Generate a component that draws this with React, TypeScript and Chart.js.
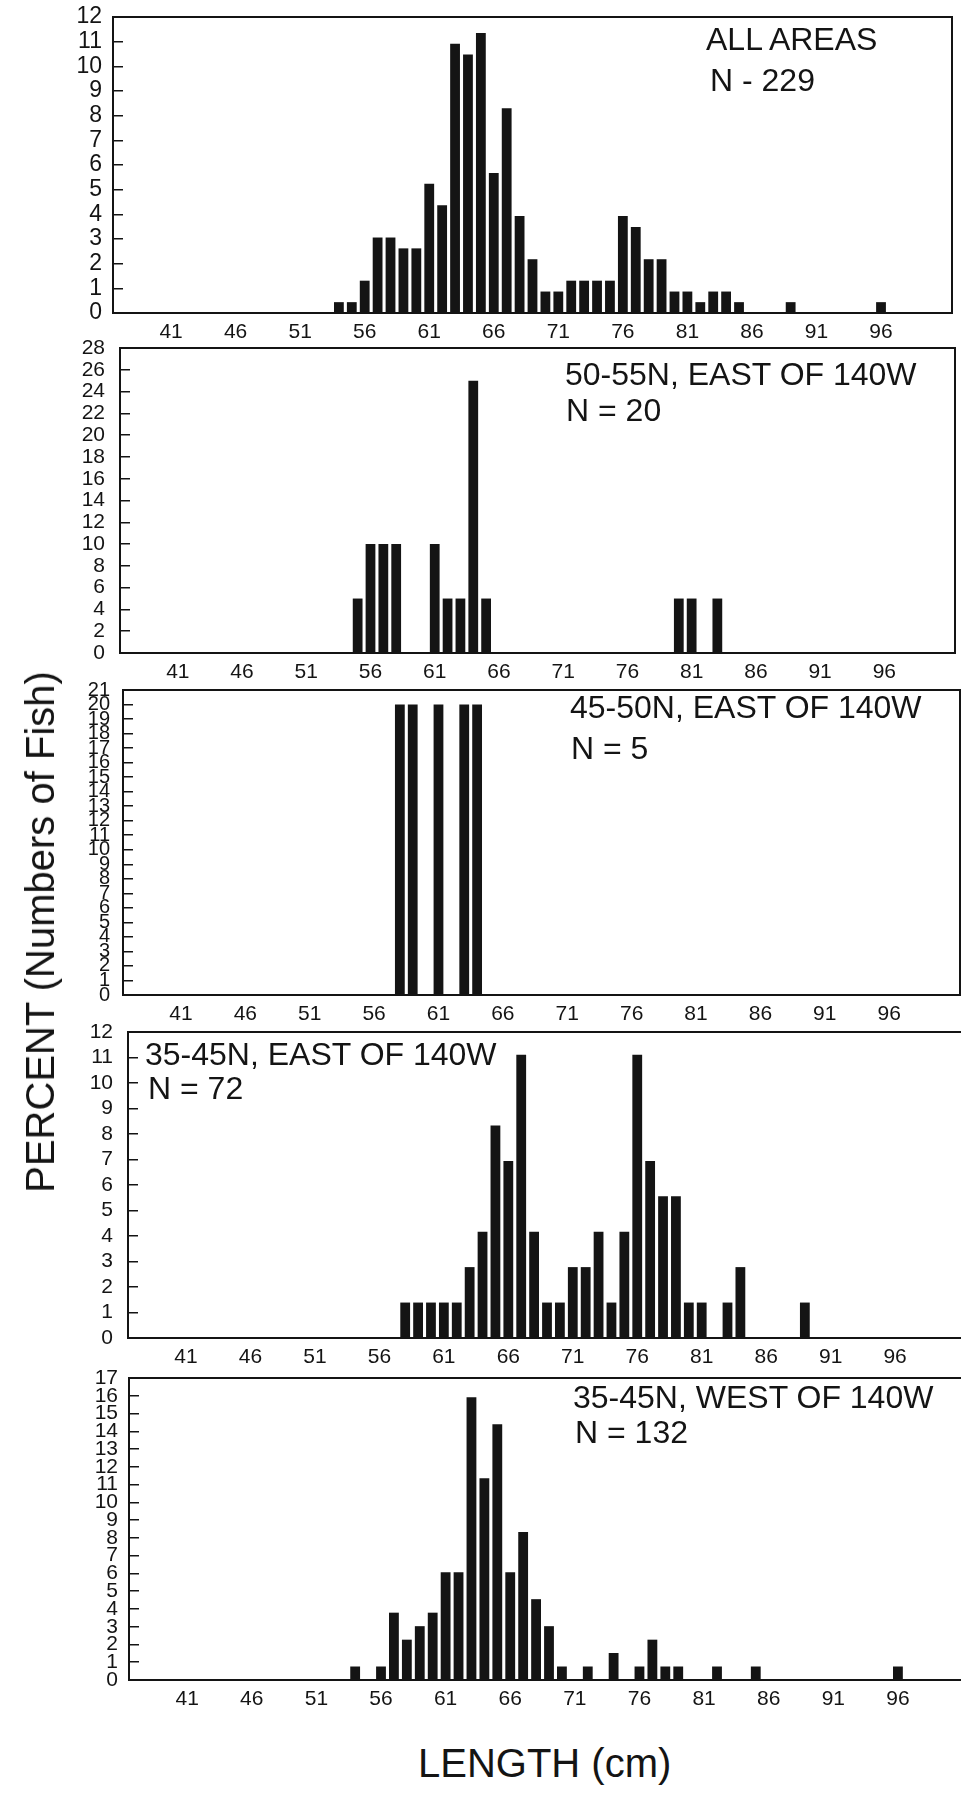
import React, { useEffect, useRef } from 'react';
import { Chart, registerables } from 'chart.js';

Chart.register(...registerables);

// ---------- data ----------
const LENGTH_CATEGORIES = [
  '37', '38', '39', '40', '41', '42', '43', '44', '45', '46', '47', '48', '49', '50',
  '51', '52', '53', '54', '55', '56', '57', '58', '59', '60', '61', '62', '63', '64',
  '65', '66', '67', '68', '69', '70', '71', '72', '73', '74', '75', '76', '77', '78',
  '79', '80', '81', '82', '83', '84', '85', '86', '87', '88', '89', '90', '91', '92',
  '93', '94', '95', '96', '97', '98', '99', '100', '101',
];
const X_TICK_LABELS = ['41', '46', '51', '56', '61', '66', '71', '76', '81', '86', '91', '96'];

const ALL_AREAS_LENGTHS = [54, 55, 56, 57, 58, 59, 60, 61, 62, 63, 64, 65, 66, 67, 68, 69, 70, 71, 72, 73, 74, 75, 76, 77, 78, 79, 80, 81, 82, 83, 84, 85, 89, 96];
const ALL_AREAS_PERCENT = [0.44, 0.44, 1.31, 3.06, 3.06, 2.62, 2.62, 5.24, 4.37, 10.92, 10.48, 11.35, 5.68, 8.3, 3.93, 2.18, 0.87, 0.87, 1.31, 1.31, 1.31, 1.31, 3.93, 3.49, 2.18, 2.18, 0.87, 0.87, 0.44, 0.87, 0.87, 0.44, 0.44, 0.44];

const N50_55_EAST_LENGTHS = [55, 56, 57, 58, 61, 62, 63, 64, 65, 80, 81, 83];
const N50_55_EAST_PERCENT = [5, 10, 10, 10, 10, 5, 5, 25, 5, 5, 5, 5];

const N45_50_EAST_LENGTHS = [58, 59, 61, 63, 64];
const N45_50_EAST_PERCENT = [20, 20, 20, 20, 20];

const N35_45_EAST_LENGTHS = [58, 59, 60, 61, 62, 63, 64, 65, 66, 67, 68, 69, 70, 71, 72, 73, 74, 75, 76, 77, 78, 79, 80, 81, 83, 84, 89];
const N35_45_EAST_PERCENT = [1.39, 1.39, 1.39, 1.39, 1.39, 2.78, 4.17, 8.33, 6.94, 11.11, 4.17, 1.39, 1.39, 2.78, 2.78, 4.17, 1.39, 4.17, 11.11, 6.94, 5.56, 5.56, 1.39, 1.39, 1.39, 2.78, 1.39];

const N35_45_WEST_LENGTHS = [54, 56, 57, 58, 59, 60, 61, 62, 63, 64, 65, 66, 67, 68, 69, 70, 72, 74, 76, 77, 78, 79, 82, 85, 96];
const N35_45_WEST_PERCENT = [0.76, 0.76, 3.79, 2.27, 3.03, 3.79, 6.06, 6.06, 15.91, 11.36, 14.39, 6.06, 8.33, 4.55, 3.03, 0.76, 0.76, 1.52, 0.76, 2.27, 0.76, 0.76, 0.76, 0.76, 0.76];

// ---------- layout / style ----------
const FONT = "'Liberation Sans', Arial, Helvetica, sans-serif";
const INK = '#141414';
const PAD_TOP = 60;
const X_AXIS_H = 44;

type Panel = {
  lengths: number[];
  percent: number[];
  yMax: number;
  yStep: number;
  yFont: number;
  yPad: number;
  box: { left: number; top: number; right: number; bottom: number };
  title: string;
  nText: string;
  titlePos: { x: number; y: number };
  nPos: { x: number; y: number };
};

const PANELS: Panel[] = [
  {
    lengths: ALL_AREAS_LENGTHS, percent: ALL_AREAS_PERCENT, yMax: 12, yStep: 1, yFont: 23, yPad: 21,
    box: { left: 113, top: 17, right: 952, bottom: 313 },
    title: 'ALL AREAS', nText: 'N - 229', titlePos: { x: 706, y: 23 }, nPos: { x: 710, y: 64 },
  },
  {
    lengths: N50_55_EAST_LENGTHS, percent: N50_55_EAST_PERCENT, yMax: 28, yStep: 2, yFont: 21, yPad: 25,
    box: { left: 120, top: 348, right: 955, bottom: 653 },
    title: '50-55N, EAST OF 140W', nText: 'N = 20', titlePos: { x: 565, y: 358 }, nPos: { x: 566, y: 394 },
  },
  {
    lengths: N45_50_EAST_LENGTHS, percent: N45_50_EAST_PERCENT, yMax: 21, yStep: 1, yFont: 20, yPad: 23,
    box: { left: 123, top: 690, right: 960, bottom: 995 },
    title: '45-50N, EAST OF 140W', nText: 'N = 5', titlePos: { x: 570, y: 691 }, nPos: { x: 571, y: 732 },
  },
  {
    lengths: N35_45_EAST_LENGTHS, percent: N35_45_EAST_PERCENT, yMax: 12, yStep: 1, yFont: 21, yPad: 25,
    box: { left: 128, top: 1032, right: 966, bottom: 1338 },
    title: '35-45N, EAST OF 140W', nText: 'N = 72', titlePos: { x: 145, y: 1038 }, nPos: { x: 148, y: 1072 },
  },
  {
    lengths: N35_45_WEST_LENGTHS, percent: N35_45_WEST_PERCENT, yMax: 17, yStep: 1, yFont: 21, yPad: 21,
    box: { left: 129, top: 1378, right: 969, bottom: 1680 },
    title: '35-45N, WEST OF 140W', nText: 'N = 132', titlePos: { x: 573, y: 1381 }, nPos: { x: 575, y: 1416 },
  },
];

const boxPlugin = {
  id: 'panelBox',
  afterDraw(chart: any) {
    const { ctx, chartArea } = chart;
    const { left, top, right, bottom } = chartArea;
    ctx.save();
    ctx.strokeStyle = INK;
    ctx.lineWidth = 2;
    ctx.strokeRect(left, top, right - left, bottom - top);
    ctx.restore();
  },
};

function PanelChart({ p }: { p: Panel }) {
  const ref = useRef<HTMLCanvasElement | null>(null);
  const canvasW = Math.max(961, p.box.right + 4);
  const canvasH = PAD_TOP + (p.box.bottom - p.box.top) + X_AXIS_H;

  useEffect(() => {
    if (!ref.current) return;
    const chart = new Chart(ref.current, {
      type: 'bar',
      data: {
        labels: LENGTH_CATEGORIES,
        datasets: [
          {
            data: p.lengths.map((l, i) => ({ x: String(l), y: p.percent[i] })),
            backgroundColor: INK,
            borderWidth: 0,
            barPercentage: 0.76,
            categoryPercentage: 1,
          } as any,
        ],
      },
      options: {
        responsive: false,
        animation: false,
        events: [],
        layout: { padding: { top: PAD_TOP, right: canvasW - p.box.right, left: 0, bottom: 0 } },
        plugins: {
          legend: { display: false },
          tooltip: { enabled: false },
          title: { display: false },
        },
        scales: {
          x: {
            type: 'category',
            offset: true,
            grid: { display: false, drawTicks: false },
            border: { display: false },
            ticks: {
              autoSkip: false,
              maxRotation: 0,
              minRotation: 0,
              padding: 7,
              color: INK,
              font: { family: FONT, size: 21 },
              callback: (_v: any, index: number) => {
                const lab = LENGTH_CATEGORIES[index];
                return X_TICK_LABELS.includes(lab) ? lab : '';
              },
            },
            afterFit: (s: any) => {
              s.height = X_AXIS_H;
            },
          },
          y: {
            min: 0,
            max: p.yMax,
            grid: {
              display: true,
              drawOnChartArea: false,
              drawTicks: true,
              tickLength: -10,
              color: INK,
              lineWidth: 1.5,
            },
            border: { display: false },
            ticks: {
              stepSize: p.yStep,
              autoSkip: false,
              padding: p.yPad,
              color: INK,
              font: { family: FONT, size: p.yFont },
            },
            afterFit: (s: any) => {
              s.width = p.box.left;
            },
          },
        },
      } as any,
      plugins: [boxPlugin],
    });
    return () => chart.destroy();
  }, []);

  return (
    <canvas
      ref={ref}
      width={canvasW}
      height={canvasH}
      style={{
        position: 'absolute',
        left: 0,
        top: p.box.top - PAD_TOP,
        width: canvasW,
        height: canvasH,
      }}
    />
  );
}

const textStyle = (x: number, y: number, size: number): React.CSSProperties => ({
  position: 'absolute',
  left: x,
  top: y,
  fontFamily: FONT,
  fontSize: size,
  lineHeight: 1,
  color: INK,
  whiteSpace: 'nowrap',
});

export default function App() {
  return (
    <div
      style={{
        position: 'absolute',
        left: 0,
        top: 0,
        width: 961,
        height: 1797,
        overflow: 'hidden',
        background: '#ffffff',
      }}
    >
      {PANELS.map((p, i) => (
        <PanelChart key={i} p={p} />
      ))}
      {PANELS.map((p, i) => (
        <React.Fragment key={'t' + i}>
          <div style={textStyle(p.titlePos.x, p.titlePos.y, 32)}>{p.title}</div>
          <div style={textStyle(p.nPos.x, p.nPos.y, 32)}>{p.nText}</div>
        </React.Fragment>
      ))}
      <div
        style={{
          ...textStyle(40, 932, 40),
          transform: 'translate(-50%, -50%) rotate(-90deg)',
        }}
      >
        PERCENT (Numbers of Fish)
      </div>
      <div style={textStyle(418, 1743, 40)}>LENGTH (cm)</div>
    </div>
  );
}
